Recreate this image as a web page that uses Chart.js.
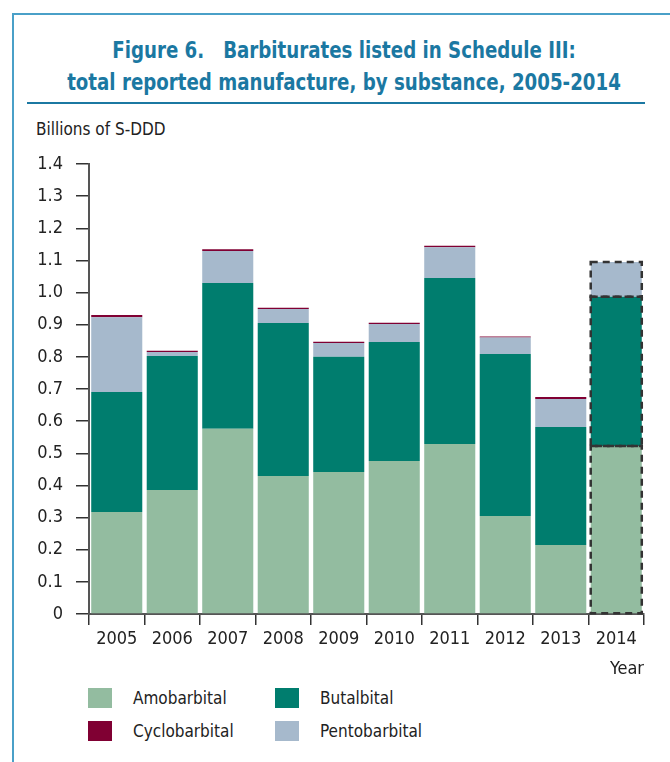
<!DOCTYPE html>
<html>
<head>
<meta charset="utf-8">
<script src="https://cdn.jsdelivr.net/npm/chart.js@4.4.0/dist/chart.umd.min.js"></script>
<style>
	html, body {
		margin: 0;
		padding: 0;
		background: #ffffff;
		width: 670px;
		height: 762px;
		overflow: hidden;
		font-family: "Liberation Sans Narrow", "DejaVu Sans Condensed", "Liberation Sans", sans-serif;
	}
	#frame {
		position: absolute;
		left: 12px;
		top: 13px;
		width: 670px;
		height: 760px;
		border-left: 2px solid #4aa0c8;
		border-top: 2px solid #4aa0c8;
	}
	#title {
		position: absolute;
		left: 16px;
		top: 34px;
		width: 656px;
		text-align: center;
		color: #1b78a2;
		font-weight: bold;
		font-size: 23px;
		line-height: 32px;
		transform: scaleX(0.88);
		transform-origin: 328px 0;
	}
	#rule {
		position: absolute;
		left: 27px;
		top: 102px;
		width: 618px;
		height: 0;
		border-top: 2px solid #1b78a2;
	}
	#unit {
		position: absolute;
		left: 36px;
		top: 119px;
		font-size: 17px;
		color: #222222;
	}
	#chartBox {
		position: absolute;
		left: 0;
		top: 140px;
		width: 670px;
		height: 540px;
	}
	#legend {
		position: absolute;
		left: 88px;
		top: 687px;
		width: 500px;
	}
	.item {
		position: absolute;
		height: 22px;
		font-size: 17px;
		color: #222222;
		line-height: 22px;
	}
	.swatch {
		position: absolute;
		left: 0;
		top: 1px;
		width: 24px;
		height: 20px;
	}
	.label {
		position: absolute;
		left: 45px;
		top: 0;
		white-space: nowrap;
	}
</style>
</head>
<body>
<div id="frame"></div>
<div id="title">Figure 6.&nbsp;&nbsp;&nbsp;Barbiturates listed in Schedule III:<br>total reported manufacture, by substance, 2005-2014</div>
<div id="rule"></div>
<div id="unit">Billions of S-DDD</div>
<div id="chartBox"><canvas id="chart"></canvas></div>
<div id="legend"></div>
<script>
const years = ["2005", "2006", "2007", "2008", "2009", "2010", "2011", "2012", "2013", "2014"];
const amobarbital = [0.317, 0.386, 0.576, 0.429, 0.442, 0.476, 0.529, 0.305, 0.215, 0.523];
const butalbital = [0.374, 0.417, 0.454, 0.476, 0.358, 0.370, 0.516, 0.504, 0.367, 0.464];
const pentobarbital = [0.232, 0.012, 0.099, 0.044, 0.043, 0.056, 0.096, 0.051, 0.087, 0.108];
const cyclobarbital = [0.007, 0.004, 0.006, 0.004, 0.004, 0.004, 0.005, 0.003, 0.006, 0];
const yTicks = [0, 0.1, 0.2, 0.3, 0.4, 0.5, 0.6, 0.7, 0.8, 0.9, 1.0, 1.1, 1.2, 1.3, 1.4];
const dashedYear = "2014";

const fontFamily = "'Liberation Sans Narrow', 'DejaVu Sans Condensed', 'Liberation Sans', sans-serif";

const series = [
	{ label: "Amobarbital", data: amobarbital, color: "#93bca0" },
	{ label: "Butalbital", data: butalbital, color: "#007d6e" },
	{ label: "Pentobarbital", data: pentobarbital, color: "#a6b9cc" },
	{ label: "Cyclobarbital", data: cyclobarbital, color: "#800033" }
];

// legend order as in the figure: two columns
const legendOrder = ["Amobarbital", "Butalbital", "Cyclobarbital", "Pentobarbital"];

function buildLegend() {
	const legend = document.getElementById("legend");
	legendOrder.forEach((name, i) => {
		const s = series.find(item => item.label === name);
		const item = document.createElement("div");
		item.className = "item";
		item.style.left = (i % 2 === 0 ? 0 : 187) + "px";
		item.style.top = (Math.floor(i / 2) * 33) + "px";
		const swatch = document.createElement("div");
		swatch.className = "swatch";
		swatch.style.background = s.color;
		const label = document.createElement("div");
		label.className = "label";
		label.textContent = s.label;
		item.appendChild(swatch);
		item.appendChild(label);
		legend.appendChild(item);
	});
}

// dashed outline around the projected year, drawn from the bar elements
const dashedOutline = {
	id: "dashedOutline",
	afterDatasetsDraw(chart) {
		const index = chart.data.labels.indexOf(dashedYear);
		if (index < 0) {
			return;
		}
		const ctx = chart.ctx;
		ctx.save();
		ctx.strokeStyle = "#333333";
		ctx.lineWidth = 2.5;
		ctx.setLineDash([7, 5]);
		chart.data.datasets.forEach((dataset, di) => {
			const bar = chart.getDatasetMeta(di).data[index];
			if (!bar || dataset.data[index] === 0) {
				return;
			}
			const half = bar.width / 2;
			ctx.strokeRect(bar.x - half, bar.y, bar.width, bar.base - bar.y);
		});
		ctx.restore();
	}
};

function drawChart() {
	const canvas = document.getElementById("chart");
	const context = canvas.getContext("2d");
	const datasets = series.map(s => {
		return {
			label: s.label,
			data: s.data,
			backgroundColor: s.color,
			borderWidth: 0,
			barPercentage: 0.92,
			categoryPercentage: 1.0
		};
	});
	const options = {
		type: "bar",
		data: {
			labels: years,
			datasets: datasets
		},
		options: {
			responsive: true,
			maintainAspectRatio: false,
			animation: false,
			layout: {
				padding: {
					top: 24,
					right: 26,
					left: 0,
					bottom: 0
				}
			},
			plugins: {
				legend: {
					display: false
				},
				tooltip: {
					enabled: false
				}
			},
			scales: {
				x: {
					stacked: true,
					grid: {
						display: true,
						drawOnChartArea: false,
						drawTicks: true,
						tickLength: 11,
						color: "#333333",
						lineWidth: 1.5,
						offset: true
					},
					border: {
						display: true,
						color: "#555555",
						width: 2
					},
					ticks: {
						color: "#222222",
						padding: 4,
						maxRotation: 0,
						font: {
							family: fontFamily,
							size: 18
						}
					},
					title: {
						display: true,
						text: "Year",
						align: "end",
						color: "#222222",
						padding: { top: 2, bottom: 0 },
						font: {
							family: fontFamily,
							size: 18
						}
					},
					afterFit: scale => {
						scale.height = 66;
					}
				},
				y: {
					stacked: true,
					min: 0,
					max: 1.4,
					afterBuildTicks: scale => {
						scale.ticks = yTicks.map(v => ({ value: v }));
					},
					grid: {
						display: true,
						drawOnChartArea: false,
						drawTicks: true,
						tickLength: 13,
						color: "#333333",
						lineWidth: 1.5
					},
					border: {
						display: true,
						color: "#555555",
						width: 2
					},
					ticks: {
						color: "#222222",
						padding: 13,
						callback: value => value === 0 ? "0" : value.toFixed(1),
						font: {
							family: fontFamily,
							size: 18
						}
					},
					afterFit: scale => {
						scale.width = 89;
					}
				}
			}
		},
		plugins: [dashedOutline]
	};
	return new Chart(context, options);
}

document.addEventListener("DOMContentLoaded", _ => {
	buildLegend();
	drawChart();
});
</script>
</body>
</html>
